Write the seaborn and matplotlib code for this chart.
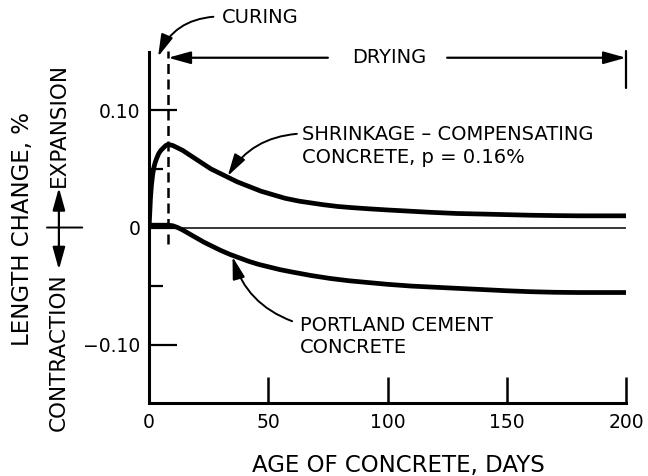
import matplotlib
matplotlib.use('Agg')
import matplotlib.pyplot as plt
import seaborn as sns
import pandas as pd

# --------------------- data ---------------------
shrink_days = [0, 0.3, 0.6, 1, 1.5, 2, 2.5, 3, 4, 5, 6, 7, 8, 10, 12, 14, 17,
               20, 23, 26, 30, 33, 37, 42, 47, 52, 57, 63, 68, 73, 79, 85, 92,
               100, 109, 118, 129, 140, 150, 160, 170, 180, 190, 200]
shrink_pct = [0.0, 0.012, 0.025, 0.036, 0.045, 0.051, 0.055, 0.058, 0.063,
              0.066, 0.068, 0.070, 0.071, 0.070, 0.068, 0.066, 0.062, 0.058,
              0.054, 0.050, 0.046, 0.043, 0.039, 0.035, 0.031, 0.028, 0.025,
              0.0225, 0.021, 0.0195, 0.018, 0.017, 0.016, 0.015, 0.014, 0.013,
              0.012, 0.0115, 0.011, 0.0105, 0.0102, 0.010, 0.010, 0.010]

portland_days = [0, 4, 8, 10, 12, 14, 17, 20, 23, 26, 30, 34, 38, 42, 46, 50,
                 55, 60, 68, 76, 84, 92, 100, 110, 120, 130, 140, 150, 160, 170,
                 180, 190, 200]
portland_pct = [0.002, 0.002, 0.002, 0.0015, 0.0, -0.002, -0.0055, -0.009,
                -0.0125, -0.0155, -0.0195, -0.023, -0.026, -0.029, -0.0315,
                -0.0335, -0.036, -0.038, -0.041, -0.0435, -0.0455, -0.047,
                -0.0485, -0.050, -0.051, -0.052, -0.053, -0.054, -0.0548,
                -0.0553, -0.0555, -0.0555, -0.0555]

x_ticks = [0, 50, 100, 150, 200]
y_ticks = [-0.10, 0, 0.10]
y_tick_labels = ['\u22120.10', '0', '0.10']
curing_end = 8  # days

df = pd.concat([
    pd.DataFrame({'days': shrink_days, 'pct': shrink_pct, 'mix': 'shrink'}),
    pd.DataFrame({'days': portland_days, 'pct': portland_pct, 'mix': 'portland'}),
])

# --------------------- style ---------------------
sns.set_style('ticks')
plt.rcParams['font.family'] = ['DejaVu Sans']
plt.rcParams.update({'text.color': 'black', 'axes.labelcolor': 'black',
                     'xtick.color': 'black', 'ytick.color': 'black',
                     'axes.edgecolor': 'black'})

fig = plt.figure(figsize=(6.48, 4.76), dpi=100)
ax = fig.add_axes([0.23, 0.153, 0.736, 0.738])

# --------------------- curves ---------------------
sns.lineplot(data=df, x='days', y='pct', units='mix', estimator=None,
             color='black', lw=3.4, sort=False, ax=ax, legend=False,
             solid_joinstyle='round', solid_capstyle='round')
ax.axhline(0, color='black', lw=1.1, zorder=1)
ax.plot([curing_end, curing_end], [-0.014, 0.151], color='black', lw=1.8,
        dashes=(4, 2.2), clip_on=False)

# --------------------- axes ---------------------
ax.set_xlim(0, 200)
ax.set_ylim(-0.15, 0.15)
sns.despine(ax=ax)
for s in ('left', 'bottom'):
    ax.spines[s].set_linewidth(2.2)
ax.set_xticks(x_ticks)
ax.set_yticks(y_ticks)
ax.set_yticklabels(y_tick_labels)
ax.set_yticks([-0.05, 0.05], minor=True)
ax.tick_params(axis='x', direction='in', length=19, width=1.8, pad=7,
               labelsize=13.5)
ax.tick_params(axis='y', which='major', direction='in', length=20, width=1.6,
               pad=6, labelsize=13.5)
ax.tick_params(axis='y', which='minor', direction='in', length=10, width=1.6)

ax.set_xlabel('AGE OF CONCRETE, DAYS', fontsize=16.5)
ax.xaxis.set_label_coords(0.522, -0.145)
ax.set_ylabel('LENGTH CHANGE, %', fontsize=16.5)
ax.yaxis.label.set(rotation_mode='default', va='center', ha='center')
ax.yaxis.set_label_coords(-0.266, 0.496)

# --------------------- expansion / contraction marker ---------------------
mix = ('axes fraction', 'data')
arr = dict(arrowstyle='-|>,head_length=0.9,head_width=0.25', color='black',
           lw=1.6, mutation_scale=15, shrinkA=0, shrinkB=0)
ax.annotate('', xy=(-0.189, 0.034), xytext=(-0.189, 0), xycoords=mix,
            textcoords=mix, arrowprops=arr, annotation_clip=False)
ax.annotate('', xy=(-0.189, -0.036), xytext=(-0.189, 0), xycoords=mix,
            textcoords=mix, arrowprops=arr, annotation_clip=False)
ax.annotate('', xy=(-0.214, 0), xytext=(-0.140, 0), xycoords=mix,
            textcoords=mix, annotation_clip=False,
            arrowprops=dict(arrowstyle='-', color='black', lw=1.4,
                            shrinkA=0, shrinkB=0))
ax.text(-0.189, 0.035, 'EXPANSION', transform=ax.get_yaxis_transform(),
        rotation=90, ha='center', va='bottom', fontsize=15.5)
ax.text(-0.189, -0.039, 'CONTRACTION', transform=ax.get_yaxis_transform(),
        rotation=90, ha='center', va='top', fontsize=15.5)

# --------------------- curing / drying ---------------------
ax.text(30.6, 0.1795, 'CURING', ha='left', va='center', fontsize=14)
ax.annotate('', xy=(3.8, 0.146), xytext=(27, 0.180), annotation_clip=False,
            arrowprops=dict(arrowstyle='-|>,head_length=0.9,head_width=0.25',
                            color='black', lw=1.4, mutation_scale=15,
                            shrinkA=0, shrinkB=0,
                            connectionstyle='arc3,rad=0.3'))
ax.text(100.6, 0.145, 'DRYING', ha='center', va='center', fontsize=14)
ax.annotate('', xy=(curing_end, 0.145), xytext=(75, 0.145),
            annotation_clip=False, arrowprops=arr)
ax.annotate('', xy=(200, 0.145), xytext=(125, 0.145),
            annotation_clip=False, arrowprops=arr)
ax.plot([200, 200], [0.119, 0.151], color='black', lw=1.6, clip_on=False)

# --------------------- curve labels ---------------------
ax.text(64.2, 0.0697, 'SHRINKAGE \u2013 COMPENSATING\nCONCRETE, p = 0.16%',
        ha='left', va='center', fontsize=14, linespacing=1.3)
ax.annotate('', xy=(33, 0.044), xytext=(62, 0.080),
            arrowprops=dict(arrowstyle='-|>,head_length=0.9,head_width=0.25',
                            color='black', lw=1.4, mutation_scale=15,
                            shrinkA=0, shrinkB=0,
                            connectionstyle='arc3,rad=0.25'))
ax.text(63.3, -0.0928, 'PORTLAND CEMENT\nCONCRETE',
        ha='left', va='center', fontsize=14, linespacing=1.2)
ax.annotate('', xy=(35, -0.025), xytext=(60, -0.080),
            arrowprops=dict(arrowstyle='-|>,head_length=0.9,head_width=0.25',
                            color='black', lw=1.4, mutation_scale=15,
                            shrinkA=0, shrinkB=0,
                            connectionstyle='arc3,rad=-0.25'))

plt.savefig('out.png', dpi=100)
plt.close()
